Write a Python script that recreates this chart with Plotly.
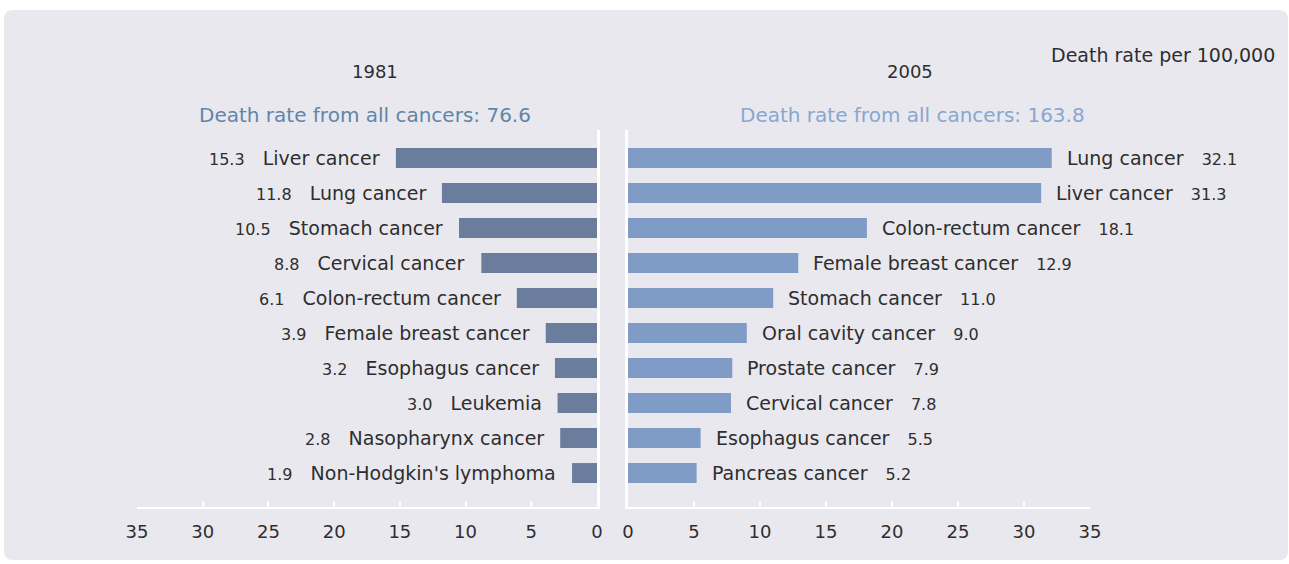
import plotly.graph_objects as go

# ---- data ----
cats_1981 = ["Liver cancer", "Lung cancer", "Stomach cancer", "Cervical cancer",
             "Colon-rectum cancer", "Female breast cancer", "Esophagus cancer",
             "Leukemia", "Nasopharynx cancer", "Non-Hodgkin's lymphoma"]
vals_1981 = [15.3, 11.8, 10.5, 8.8, 6.1, 3.9, 3.2, 3.0, 2.8, 1.9]

cats_2005 = ["Lung cancer", "Liver cancer", "Colon-rectum cancer", "Female breast cancer",
             "Stomach cancer", "Oral cavity cancer", "Prostate cancer", "Cervical cancer",
             "Esophagus cancer", "Pancreas cancer"]
vals_2005 = [32.1, 31.3, 18.1, 12.9, 11.0, 9.0, 7.9, 7.8, 5.5, 5.2]

tick_vals = [0, 5, 10, 15, 20, 25, 30, 35]
total_1981 = "76.6"
total_2005 = "163.8"

W, H = 1289, 564
FONT = "DejaVu Sans"
TXT = "#2e2e2e"
BAR_L = "#6a7d9c"
BAR_R = "#7f9cc7"
TITLE_L = "#5f86a8"
TITLE_R = "#88a7cf"
PANEL = "#e9e8ee"

rows_l = list(range(len(cats_1981)))
rows_r = list(range(len(cats_2005)))

def px_x(p):
    return p / W

def px_y(p):
    return 1 - p / H

fig = go.Figure()
fig.add_trace(go.Bar(x=vals_1981, y=rows_l, orientation="h", xaxis="x", yaxis="y",
                     marker=dict(color=BAR_L, line=dict(width=0)), width=0.57,
                     hoverinfo="skip", showlegend=False))
fig.add_trace(go.Bar(x=vals_2005, y=rows_r, orientation="h", xaxis="x2", yaxis="y2",
                     marker=dict(color=BAR_R, line=dict(width=0)), width=0.57,
                     hoverinfo="skip", showlegend=False))

annotations = []
for r, (c, v) in enumerate(zip(cats_1981, vals_1981)):
    annotations.append(dict(
        x=v, y=r, xref="x", yref="y", xanchor="right", yanchor="middle",
        xshift=-14, showarrow=False,
        text=f"<span style='font-size:16px'>{v:.1f}</span>&nbsp;&nbsp;&nbsp;{c}",
        font=dict(family=FONT, size=19, color=TXT)))
for r, (c, v) in enumerate(zip(cats_2005, vals_2005)):
    annotations.append(dict(
        x=v, y=r, xref="x2", yref="y2", xanchor="left", yanchor="middle",
        xshift=13, showarrow=False,
        text=f"{c}&nbsp;&nbsp;&nbsp;<span style='font-size:16px'>{v:.1f}</span>",
        font=dict(family=FONT, size=19, color=TXT)))

annotations += [
    dict(x=px_x(375), y=px_y(71), xref="paper", yref="paper", text="1981",
         showarrow=False, xanchor="center", yanchor="middle",
         font=dict(family=FONT, size=18, color=TXT)),
    dict(x=px_x(910), y=px_y(71), xref="paper", yref="paper", text="2005",
         showarrow=False, xanchor="center", yanchor="middle",
         font=dict(family=FONT, size=18, color=TXT)),
    dict(x=px_x(365), y=px_y(115), xref="paper", yref="paper",
         text=f"Death rate from all cancers: {total_1981}",
         showarrow=False, xanchor="center", yanchor="middle",
         font=dict(family=FONT, size=20, color=TITLE_L)),
    dict(x=px_x(912), y=px_y(115), xref="paper", yref="paper",
         text=f"Death rate from all cancers: {total_2005}",
         showarrow=False, xanchor="center", yanchor="middle",
         font=dict(family=FONT, size=20, color=TITLE_R)),
    dict(x=px_x(1277), y=px_y(55), xref="paper", yref="paper",
         text="Death rate per 100,000",
         showarrow=False, xanchor="right", yanchor="middle",
         font=dict(family=FONT, size=19, color=TXT)),
]

# rounded grey panel
x0, x1, y0, y1, rpx = 4, 1288, 10, 560, 9
rx, ry = rpx / W, rpx / H
X0, X1, Y0, Y1 = px_x(x0), px_x(x1), px_y(y1), px_y(y0)
path = (f"M {X0+rx},{Y1} L {X1-rx},{Y1} Q {X1},{Y1} {X1},{Y1-ry} "
        f"L {X1},{Y0+ry} Q {X1},{Y0} {X1-rx},{Y0} L {X0+rx},{Y0} "
        f"Q {X0},{Y0} {X0},{Y0+ry} L {X0},{Y1-ry} Q {X0},{Y1} {X0+rx},{Y1} Z")
shapes = [dict(type="path", path=path, xref="paper", yref="paper",
               fillcolor=PANEL, line=dict(width=0), layer="below")]

ydom = [px_y(507), px_y(130)]
yrange = [9.97, -0.8]
axis_common = dict(tickvals=tick_vals, ticks="inside", ticklen=6, tickwidth=2,
                   tickcolor="white", showline=True, linecolor="white", linewidth=2,
                   showgrid=False, zeroline=False, fixedrange=True, automargin=False,
                   tickfont=dict(family=FONT, size=18, color=TXT), ticklabelstandoff=7)
yaxis_common = dict(domain=ydom, range=yrange, showline=True, linecolor="white",
                    linewidth=3, showticklabels=False, ticks="", showgrid=False,
                    zeroline=False, fixedrange=True, automargin=False)

fig.update_layout(
    width=W, height=H,
    autosize=False,
    margin=dict(l=0, r=0, t=0, b=0, pad=0, autoexpand=False),
    paper_bgcolor="white",
    plot_bgcolor="rgba(0,0,0,0)",
    xaxis=dict(domain=[px_x(137), px_x(597)], range=[35, 0], anchor="y", **axis_common),
    xaxis2=dict(domain=[px_x(628), px_x(1090)], range=[0, 35], anchor="y2", **axis_common),
    yaxis=dict(anchor="x", side="right", **yaxis_common),
    yaxis2=dict(anchor="x2", side="left", **yaxis_common),
    annotations=annotations,
    shapes=shapes,
    showlegend=False,
)

fig.write_html("out.html", config={"displayModeBar": False})
